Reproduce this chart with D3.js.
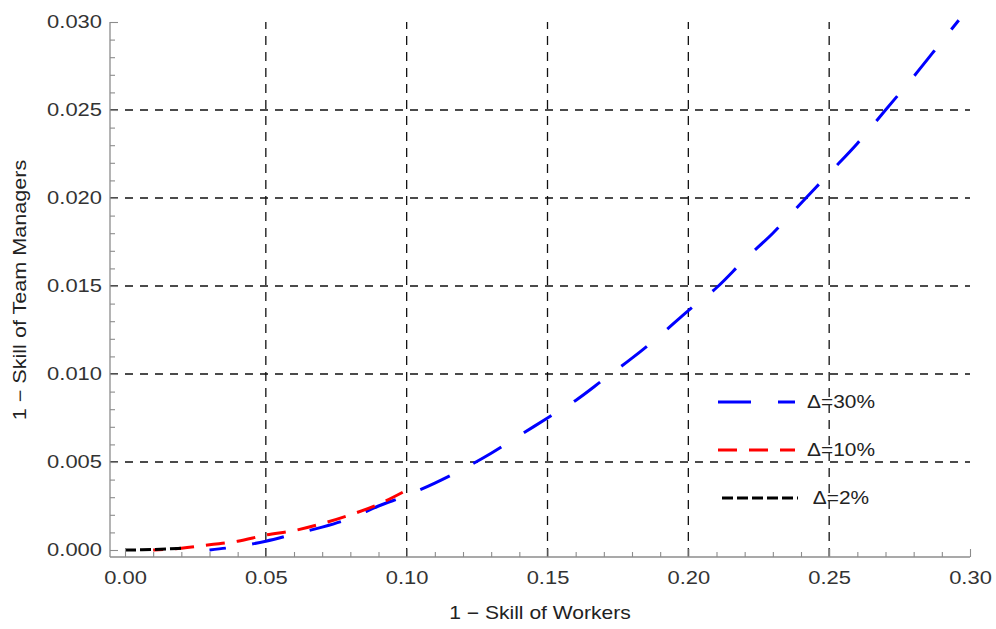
<!DOCTYPE html>
<html>
<head>
<meta charset="utf-8">
<script src="https://cdn.jsdelivr.net/npm/d3@7"></script>
<style>
  html, body { margin: 0; padding: 0; background: #fff; }
  svg { display: block; }
  text { font-family: "Liberation Sans", Arial, Helvetica, sans-serif; }
</style>
</head>
<body>
<svg id="chart" width="996" height="629"></svg>
<script>
// ---------------- data ----------------
const xTicks = [0.00, 0.05, 0.10, 0.15, 0.20, 0.25, 0.30];
const yTicks = [0.000, 0.005, 0.010, 0.015, 0.020, 0.025, 0.030];
const xTitle = "1 \u2212 Skill of Workers";
const yTitle = "1 \u2212 Skill of Team Managers";

// Δ = 30% (blue, long dash)
const blueX = [0.030, 0.040, 0.050, 0.060, 0.070, 0.080, 0.090, 0.100, 0.110, 0.120,
               0.130, 0.140, 0.150, 0.160, 0.170, 0.180, 0.190, 0.200, 0.210, 0.220,
               0.230, 0.240, 0.250, 0.260, 0.270, 0.280, 0.290, 0.296];
const blueY = [0.0000, 0.0002, 0.0005, 0.0009, 0.0013, 0.0018, 0.0025, 0.0031, 0.0038, 0.0046,
               0.0055, 0.0065, 0.0075, 0.0085, 0.0097, 0.0109, 0.0122, 0.0136, 0.0149, 0.0165,
               0.0180, 0.0197, 0.0214, 0.0231, 0.0250, 0.0269, 0.0289, 0.0301];
// Δ = 10% (red, medium dash)
const redX = [0.010, 0.020, 0.030, 0.040, 0.050, 0.060, 0.070, 0.080, 0.090, 0.100];
const redY = [0.0000, 0.0001, 0.0003, 0.0005, 0.00085, 0.0011, 0.0015, 0.0020, 0.0026, 0.0034];
// Δ = 2% (black, short dash)
const blackX = [0.000, 0.005, 0.010, 0.015, 0.020];
const blackY = [0.00000, 0.00001, 0.00003, 0.00006, 0.00010];

const seriesNames = ["\u0394=30%", "\u0394=10%", "\u0394=2%"];
const seriesColors = ["#0000ff", "#ff0000", "#000000"];

// ---------------- layout ----------------
const svg = d3.select("#chart");
const x = d3.scaleLinear().domain([0, 0.30]).range([125, 970]);
const y = d3.scaleLinear().domain([0, 0.030]).range([550, 22]);
const axisX0 = x(0) - 15;   // y-axis line position
const axisY0 = y(0) + 7;    // x-axis line position
const AX = "#8c8c8c";
const TXT = 1.22;           // horizontal stretch of the reference font

// ---------------- grid ----------------
const grid = svg.append("g");
grid.selectAll("line.v").data(xTicks.filter(d => d > 0 && d < 0.30)).join("line")
  .attr("x1", d => x(d)).attr("x2", d => x(d))
  .attr("y1", axisY0).attr("y2", y(0.030))
  .attr("stroke", "#111").attr("stroke-width", 1.3).attr("stroke-dasharray", "9,7");
grid.selectAll("line.h").data(yTicks.filter(d => d > 0 && d < 0.030)).join("line")
  .attr("x1", axisX0).attr("x2", x(0.30))
  .attr("y1", d => y(d)).attr("y2", d => y(d))
  .attr("stroke", "#111").attr("stroke-width", 1.3).attr("stroke-dasharray", "8,7");

// ---------------- curves ----------------
const line = d3.line().x(d => x(d[0])).y(d => y(d[1])).curve(d3.curveMonotoneX);
const series = [
  { xs: blueX, ys: blueY, color: seriesColors[0], dash: "33,27", off: 16, fitEnd: 12, frac: 0.55, period: 60 },
  { xs: redX,  ys: redY,  color: seriesColors[1], dash: "19,12", off: 9 },
  { xs: blackX, ys: blackY, color: seriesColors[2], dash: "11,4", off: 0 }
];
series.forEach(s => {
  const p = svg.append("path")
    .datum(s.xs.map((v, i) => [v, s.ys[i]]))
    .attr("d", line)
    .attr("fill", "none")
    .attr("stroke", s.color)
    .attr("stroke-width", 3)
    .attr("stroke-dasharray", s.dash)
    .attr("stroke-dashoffset", s.off);
  if (s.fitEnd !== undefined) {
    // adjust the dash period slightly so that the path both starts and ends inside a dash
    const L = p.node().getTotalLength();
    const n = Math.round((L + s.off - s.fitEnd) / s.period);
    const P = (L + s.off - s.fitEnd) / n;
    p.attr("stroke-dasharray", `${(P * s.frac).toFixed(2)},${(P * (1 - s.frac)).toFixed(2)}`);
  }
});

// ---------------- legend ----------------
const leg = svg.append("g");
seriesNames.forEach((name, i) => {
  const ly = 402 + i * 48;
  leg.append("line")
    .attr("x1", i === 2 ? 722 : 718).attr("x2", i === 2 ? 798 : 795)
    .attr("y1", ly).attr("y2", ly)
    .attr("stroke", series[i].color).attr("stroke-width", 3)
    .attr("stroke-dasharray", series[i].dash);
  leg.append("text")
    .attr("transform", `translate(841,${ly}) scale(1.16,1)`)
    .attr("text-anchor", "middle")
    .attr("dominant-baseline", "central")
    .attr("font-size", 18)
    .attr("fill", "#222")
    .text(name);
});

// ---------------- axes ----------------
function styleAxis(g) {
  g.select(".domain").remove();
  g.selectAll(".tick line").attr("stroke", AX).attr("stroke-width", 1.1);
}
// y axis minor + major
const yMinor = d3.range(0, 31).map(d => d / 1000).filter(d => !yTicks.some(t => Math.abs(t - d) < 1e-9));
svg.append("g").attr("transform", `translate(${axisX0},0)`)
  .call(d3.axisLeft(y).tickValues(yMinor).tickSize(-5).tickFormat(""))
  .call(styleAxis);
const gy = svg.append("g").attr("transform", `translate(${axisX0},0)`)
  .call(d3.axisLeft(y).tickValues(yTicks).tickSize(-8).tickPadding(8).tickFormat(d3.format(".3f")))
  .call(styleAxis);
gy.selectAll(".tick text")
  .attr("x", -8 / TXT)
  .attr("transform", `scale(${TXT},1)`)
  .attr("font-size", 18).attr("fill", "#333").attr("font-family", null);

// x axis minor + major
const xMinor = d3.range(0, 31).map(d => d / 100).filter(d => !xTicks.some(t => Math.abs(t - d) < 1e-9));
svg.append("g").attr("transform", `translate(0,${axisY0})`)
  .call(d3.axisBottom(x).tickValues(xMinor).tickSize(-5).tickFormat(""))
  .call(styleAxis);
const gx = svg.append("g").attr("transform", `translate(0,${axisY0})`)
  .call(d3.axisBottom(x).tickValues(xTicks).tickSize(-8).tickPadding(14).tickFormat(d3.format(".2f")))
  .call(styleAxis);
gx.selectAll(".tick text")
  .attr("transform", `scale(${TXT},1)`)
  .attr("font-size", 18).attr("fill", "#333").attr("font-family", null);

// axis lines
svg.append("line").attr("x1", axisX0).attr("x2", axisX0).attr("y1", axisY0).attr("y2", y(0.030))
  .attr("stroke", AX).attr("stroke-width", 1.3);
svg.append("line").attr("x1", axisX0).attr("x2", x(0.30)).attr("y1", axisY0).attr("y2", axisY0)
  .attr("stroke", AX).attr("stroke-width", 1.3);

// titles
svg.append("text")
  .attr("transform", `translate(${(axisX0 + x(0.30)) / 2},613) scale(1.17,1)`)
  .attr("text-anchor", "middle").attr("dominant-baseline", "central")
  .attr("font-size", 18).attr("fill", "#222")
  .text(xTitle);
svg.append("text")
  .attr("transform", `translate(20,290) rotate(-90) scale(1.2,1)`)
  .attr("text-anchor", "middle").attr("dominant-baseline", "central")
  .attr("font-size", 18).attr("fill", "#222")
  .text(yTitle);
</script>
</body>
</html>
